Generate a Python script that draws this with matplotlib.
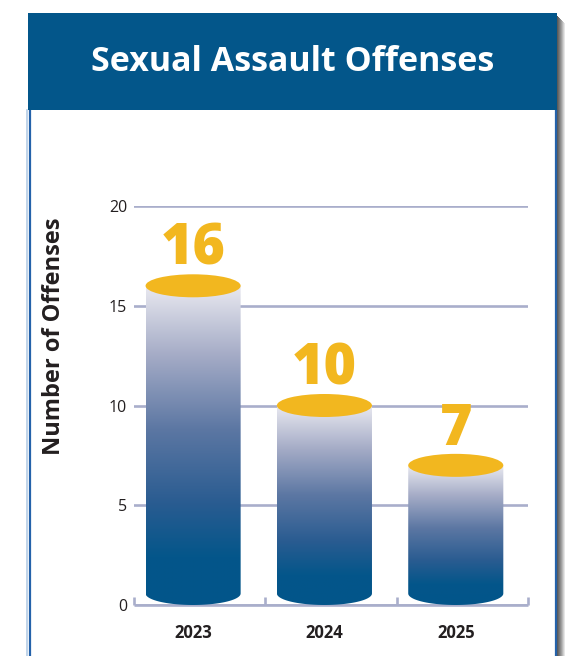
import numpy as np
import matplotlib
matplotlib.use("Agg")
import matplotlib.pyplot as plt
from matplotlib.patches import Rectangle, Ellipse, PathPatch
from matplotlib.path import Path
from matplotlib.colors import LinearSegmentedColormap
from matplotlib.lines import Line2D

# ---- data ----
years = ["2023", "2024", "2025"]
offenses = [16, 10, 7]
y_ticks = [0, 5, 10, 15, 20]
title = "Sexual Assault Offenses"
y_label = "Number of Offenses"

# ---- style ----
W, H = 565, 656
NAVY = "#03568A"
BORDER = "#2462AA"
YELLOW = "#F2B71F"
GRID = "#A9AECB"
TEXT = "#231F20"
FONT = "Open Sans"

plt.rcParams["font.family"] = [FONT, "DejaVu Sans"]

fig = plt.figure(figsize=(W / 100, H / 100), dpi=100)
fig.patch.set_facecolor("white")


def fx(px):
    return px / W


def fy(py):
    return 1 - py / H


# panel shadow on the right
for i, c in enumerate(["#5a5a5a", "#6a6a6a", "#7a7a7a", "#8c8c8c", "#a0a0a0", "#b8b8b8", "#d0d0d0", "#e6e6e6"]):
    fig.add_artist(Rectangle((fx(557 + i), 0), fx(1), fy(16 + i), transform=fig.transFigure,
                             facecolor=c, edgecolor="none", zorder=0))

# panel borders
fig.add_artist(Line2D([fx(27), fx(27)], [0, fy(110)], transform=fig.transFigure,
                      color="#B5CDE6", lw=1.2, zorder=1))
fig.add_artist(Line2D([fx(29.5), fx(29.5)], [0, fy(110)], transform=fig.transFigure,
                      color=BORDER, lw=1.6, zorder=1))
fig.add_artist(Line2D([fx(556), fx(556)], [0, fy(110)], transform=fig.transFigure,
                      color=BORDER, lw=1.6, zorder=1))

# header band
fig.add_artist(Rectangle((fx(28), fy(110)), fx(557 - 28), 97 / H, transform=fig.transFigure,
                         facecolor=NAVY, edgecolor="none", zorder=2))
fig.text(fx(293), fy(62), title, color="white", fontsize=24.5, fontweight="bold",
         ha="center", va="center", zorder=3)

# ---- chart axes ----
ax = fig.add_axes([fx(134), fy(605), fx(528 - 134), (605 - 206) / H])
x_lo, x_hi = -0.45, 2.55
ax.set_xlim(x_lo, x_hi)
ax.set_ylim(0, 20)
ax.patch.set_alpha(0)

for s in ["top", "right", "left"]:
    ax.spines[s].set_visible(False)
ax.spines["bottom"].set_color(GRID)
ax.spines["bottom"].set_linewidth(1.9)
ax.spines["bottom"].set_capstyle("butt")

ax.set_yticks(y_ticks)
ax.set_yticklabels([str(t) for t in y_ticks])
ax.tick_params(axis="y", length=0, pad=5, labelsize=11.5, labelcolor=TEXT)
ax.yaxis.grid(True, color=GRID, lw=1.9)
ax.set_axisbelow(True)

ax.set_xticks(range(len(years)))
ax.set_xticklabels(years, fontweight="bold")
ax.tick_params(axis="x", which="major", length=0, pad=14, labelsize=12, labelcolor=TEXT)
ax.set_xticks(np.arange(x_lo, x_hi + 0.01, 1.0), minor=True)
ax.tick_params(axis="x", which="minor", direction="in", length=6, width=1.9, color=GRID)

ax.set_ylabel(y_label, fontsize=17, fontweight="bold", color=TEXT)
ax.yaxis.set_label_coords((66 - 134) / 394, (605 - 336) / 399)

# ---- cylinders ----
half_w = 0.362
# ellipse half-height in data units, from the axes' pixel scale
px_per_unit = (605 - 206) / 20
ell_h = 11.5 / px_per_unit

grad_cmap = LinearSegmentedColormap.from_list(
    "cyl", [(0.0, "#E9E9F0"), (0.22, "#A4ABC6"), (0.45, "#5C77A3"),
            (0.68, "#2A5C91"), (0.85, "#04568A"), (1.0, "#02558A")])
grad = grad_cmap(np.linspace(0, 1, 256))[:, None, :]

for i, v in enumerate(offenses):
    x0, x1 = i - half_w, i + half_w
    # body outline: straight sides, flat top, rounded bottom
    theta = np.linspace(np.pi, 2 * np.pi, 60)
    arc_x = i + half_w * np.cos(theta)
    arc_y = ell_h + ell_h * np.sin(theta)
    verts = [(x1, v), (x0, v)] + list(zip(arc_x, arc_y)) + [(x1, v)]
    codes = [Path.MOVETO] + [Path.LINETO] * (len(verts) - 2) + [Path.CLOSEPOLY]
    body = PathPatch(Path(verts, codes), facecolor="none", edgecolor="none")
    ax.add_patch(body)
    img = ax.imshow(grad, extent=[x0, x1, 0, v], aspect="auto", origin="upper",
                    interpolation="bicubic", zorder=3)
    img.set_clip_path(body)
    ax.add_patch(Ellipse((i, v), 2 * half_w, 2 * ell_h, facecolor=YELLOW,
                         edgecolor="none", zorder=4))
    ax.annotate(str(v), (i, v), xytext=(0, 15), textcoords="offset points",
                ha="center", va="baseline", fontsize=40, fontweight="heavy",
                color=YELLOW, zorder=5)

ax.set_xlim(x_lo, x_hi)
ax.set_ylim(0, 20)

fig.savefig("out.png", dpi=100)
